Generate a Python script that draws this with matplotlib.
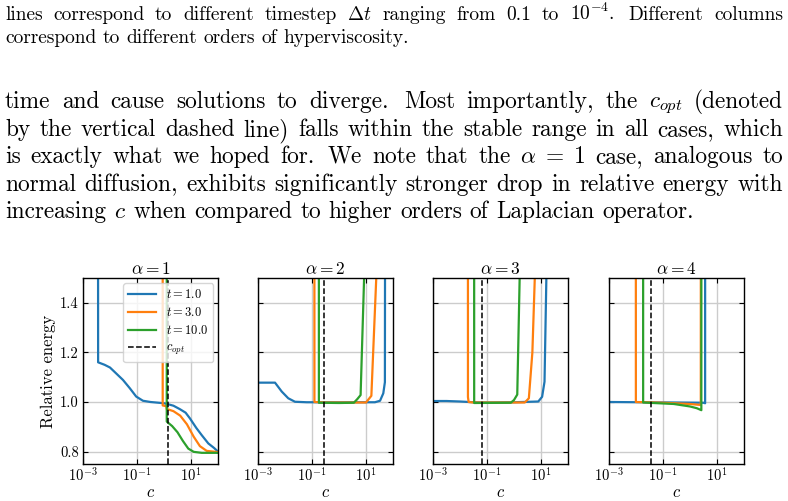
import re
import matplotlib
matplotlib.use('Agg')
import matplotlib.pyplot as plt
from matplotlib.ticker import FixedLocator, NullLocator, LogFormatterSciNotation

plt.rcParams['font.family'] = ['cmr10', 'DejaVu Serif']
plt.rcParams['mathtext.fontset'] = 'cm'
plt.rcParams['axes.formatter.use_mathtext'] = True

# ---------------- data ----------------
alphas = [1, 2, 3, 4]
series_labels = ['$t=1.0$', '$t=3.0$', '$t=10.0$']
series_colors = ['#1f77b4', '#ff7f0e', '#2ca02c']
c_opt = [1.45, 0.29, 0.066, 0.035]

# alpha = 1
c_a1_t1 = [0.00347, 0.00363, 0.00631, 0.01, 0.017, 0.0302, 0.0537, 0.0933, 0.166, 0.316,
           1.0, 1.41, 2.24, 3.89, 6.31, 9.12, 15.8, 25.1, 43.7, 70.8, 100]
e_a1_t1 = [5.0, 1.16, 1.15, 1.139, 1.115, 1.089, 1.056, 1.022, 1.005, 1.0,
           0.995, 0.991, 0.985, 0.971, 0.957, 0.934, 0.895, 0.866, 0.833, 0.815, 0.80]
c_a1_t3 = [0.891, 0.895, 1.23, 1.26, 2.24, 3.98, 7.08, 12.6, 21.4, 38.0, 100]
e_a1_t3 = [5.0, 0.986, 0.983, 0.972, 0.963, 0.945, 0.91, 0.86, 0.822, 0.803, 0.798]
c_a1_t10 = [1.259, 1.265, 2.0, 3.16, 5.01, 7.94, 12.6, 25.1, 100]
e_a1_t10 = [5.0, 0.921, 0.903, 0.878, 0.843, 0.812, 0.799, 0.795, 0.795]

# alpha = 2
c_a2_t1 = [0.001, 0.00427, 0.00759, 0.0132, 0.0234, 0.0631, 21.4, 33.1, 43.7, 50.1, 55.0]
e_a2_t1 = [1.078, 1.078, 1.042, 1.015, 1.001, 0.999, 0.999, 1.005, 1.035, 1.08, 5.0]
c_a2_t3 = [0.1216, 0.123, 0.316, 10.0, 15.8, 24.0, 25.1]
e_a2_t3 = [5.0, 1.0, 0.998, 0.998, 1.025, 1.5, 5.0]
c_a2_t10 = [0.178, 0.18, 1.0, 3.55, 4.79, 6.31, 8.51, 8.91]
e_a2_t10 = [5.0, 0.997, 0.996, 0.997, 1.012, 1.028, 1.5, 5.0]

# alpha = 3
c_a3_t1 = [0.001, 0.00316, 0.01, 0.0316, 0.1, 1.0, 7.94, 11.0, 13.5, 15.8, 16.6]
e_a3_t1 = [1.004, 1.004, 1.002, 0.999, 0.998, 0.999, 1.002, 1.021, 1.082, 1.5, 5.0]
c_a3_t3 = [0.0195, 0.0197, 0.0209, 0.0316, 2.51, 3.55, 4.79, 5.89, 6.17]
e_a3_t3 = [5.0, 1.02, 1.0, 0.998, 0.998, 1.015, 1.2, 1.5, 5.0]
c_a3_t10 = [0.0331, 0.0335, 0.759, 1.0, 1.32, 1.62, 1.70]
e_a3_t10 = [5.0, 0.996, 0.997, 1.008, 1.03, 1.5, 5.0]

# alpha = 4
c_a4_t1 = [0.001, 3.16, 3.63, 3.67]
e_a4_t1 = [1.0, 0.997, 0.995, 5.0]
c_a4_t3 = [0.00977, 0.00989, 0.1, 1.0, 2.51, 2.54]
e_a4_t3 = [5.0, 1.0, 0.997, 0.992, 0.988, 5.0]
c_a4_t10 = [0.0182, 0.0184, 0.251, 1.0, 1.78, 2.63, 2.66]
e_a4_t10 = [5.0, 0.998, 0.992, 0.982, 0.975, 0.967, 5.0]

panels = [
    [(c_a1_t1, e_a1_t1), (c_a1_t3, e_a1_t3), (c_a1_t10, e_a1_t10)],
    [(c_a2_t1, e_a2_t1), (c_a2_t3, e_a2_t3), (c_a2_t10, e_a2_t10)],
    [(c_a3_t1, e_a3_t1), (c_a3_t3, e_a3_t3), (c_a3_t10, e_a3_t10)],
    [(c_a4_t1, e_a4_t1), (c_a4_t3, e_a4_t3), (c_a4_t10, e_a4_t10)],
]

x_ticks = [1e-3, 1e-1, 1e1]
y_ticks = [0.8, 1.0, 1.2, 1.4]
y_ticklabels = ['0.8', '1.0', '1.2', '1.4']

caption_lines = [
    "lines correspond to different timestep $\\Delta t$ ranging from 0.1 to $10^{-4}$.  Different columns",
    "correspond to different orders of hyperviscosity.",
]
body_lines = [
    "time and cause solutions to diverge.  Most importantly, the $c_{opt}$ (denoted",
    "by the vertical dashed line) falls within the stable range in all cases, which",
    "is exactly what we hoped for.  We note that the $\\alpha$ = 1 case, analogous to",
    "normal diffusion, exhibits significantly stronger drop in relative energy with",
    "increasing $c$ when compared to higher orders of Laplacian operator.",
]

# ---------------- figure ----------------
W, H = 788, 501
fig = plt.figure(figsize=(W / 100, H / 100), dpi=100)
renderer = fig.canvas.get_renderer()


def tokens(line):
    return re.findall(r'\$[^$]*\$\S*|\S+', line)


def draw_paragraph(lines, fs, baselines, x0=5, x1=783):
    for i, (line, yb) in enumerate(zip(lines, baselines)):
        toks = tokens(line)
        texts = [fig.text(0, 1 - yb / H, t, fontsize=fs, va='baseline', ha='left',
                          color='black') for t in toks]
        widths = [t.get_window_extent(renderer).width for t in texts]
        weights = [1.35 if toks[k].endswith('.') else 1.0 for k in range(len(toks) - 1)]
        if i == len(lines) - 1:
            gap = fs * 100 / 72 * 0.333
        else:
            gap = (x1 - x0 - sum(widths)) / sum(weights)
        x = x0
        for k, t in enumerate(texts):
            t.set_x(x / W)
            x += widths[k] + (weights[k] * gap if k < len(weights) else 0)


draw_paragraph(caption_lines, 14.0, [20, 43])
draw_paragraph(body_lines, 16.8, [108, 136, 163, 191, 218])

lefts = [83, 258, 433, 609]
ax_w, ax_top, ax_bot = 135, 278, 464

for p, (alpha, series) in enumerate(zip(alphas, panels)):
    ax = fig.add_axes([lefts[p] / W, 1 - ax_bot / H, ax_w / W, (ax_bot - ax_top) / H])
    for (cx, ey), lab, col in zip(series, series_labels, series_colors):
        ax.plot(cx, ey, color=col, lw=1.6, label=lab)
    ax.axvline(c_opt[p], color='black', ls='--', lw=1.1, label='$c_{opt}$')
    ax.set_xscale('log')
    ax.set_xlim(1e-3, 1e2)
    ax.set_ylim(0.75, 1.5)
    ax.xaxis.set_major_locator(FixedLocator(x_ticks))
    ax.xaxis.set_major_formatter(LogFormatterSciNotation())
    ax.xaxis.set_minor_locator(NullLocator())
    ax.set_yticks(y_ticks)
    ax.grid(True, color='#cccccc', lw=1.0)
    ax.set_axisbelow(True)
    ax.tick_params(direction='in', top=True, right=True, length=3.5, width=0.8,
                   labelsize=10.5, pad=3)
    ax.tick_params(axis='x', pad=2)
    for s in ax.spines.values():
        s.set_linewidth(1.0)
    ax.set_title(f'$\\alpha={alpha}$', fontsize=12.5, pad=3)
    ax.set_xlabel('$c$', fontsize=12, labelpad=0)
    if p == 0:
        ax.set_yticklabels(y_ticklabels)
        ax.set_ylabel('Relative energy', fontsize=12, labelpad=3)
        ax.legend(loc='upper right', fontsize=9, handlelength=2.2, labelspacing=0.4,
                  borderaxespad=0.4, framealpha=0.8, edgecolor='#cccccc')
    else:
        ax.tick_params(labelleft=False)

fig.savefig('out.png', dpi=100)
